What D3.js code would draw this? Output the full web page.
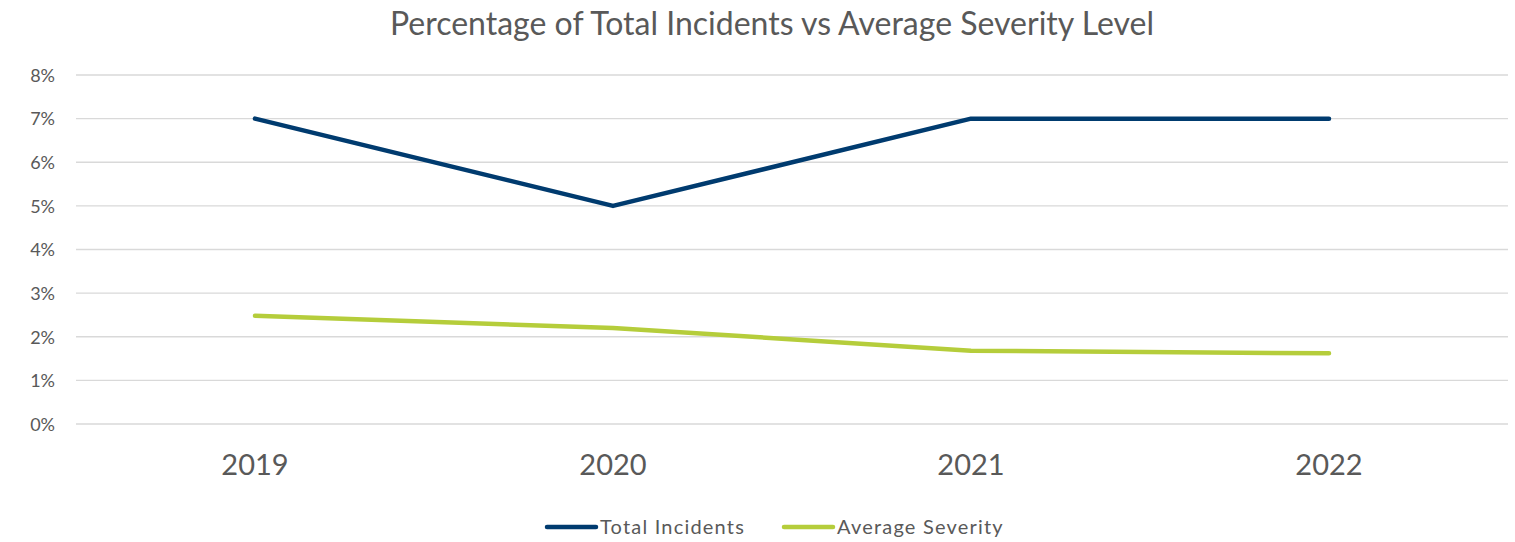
<!DOCTYPE html>
<html lang="en">
<head>
<meta charset="utf-8">
<title>Percentage of Total Incidents vs Average Severity Level</title>
<script src="https://d3js.org/d3.v7.min.js"></script>
<style>
  body { margin: 0; background: #fff; }
  svg { display: block; }
  svg text { font-family: Lato, "Open Sans", sans-serif; }
</style>
</head>
<body>
<script>
const years = ["2019", "2020", "2021", "2022"];
const totalIncidents = [7, 5, 7, 7];
const averageSeverity = [2.48, 2.2, 1.68, 1.62];
const yTicks = [0, 1, 2, 3, 4, 5, 6, 7, 8];
const seriesNames = ["Total Incidents", "Average Severity"];
const seriesColors = ["#003b6f", "#b5cd3b"];

const width = 1515, height = 542;
const plot = {left: 76, right: 1508, top: 75, bottom: 424};

const svg = d3.select("body").append("svg")
  .attr("width", width)
  .attr("height", height);

const x = d3.scaleBand()
  .domain(years)
  .range([plot.left, plot.right])
  .padding(0);

const y = d3.scaleLinear()
  .domain([0, 8])
  .range([plot.bottom, plot.top]);

// gridlines
svg.append("g")
  .selectAll("line")
  .data(yTicks)
  .join("line")
  .attr("x1", plot.left)
  .attr("x2", plot.right)
  .attr("y1", d => y(d))
  .attr("y2", d => y(d))
  .attr("stroke", "#d9d9d9")
  .attr("stroke-width", 1.3);

// y axis labels
const yAxis = d3.axisLeft(y).tickValues(yTicks).tickFormat(d => d + "%").tickSize(0).tickPadding(0);
svg.append("g")
  .attr("transform", "translate(" + (plot.left - 21) + ",0)")
  .call(yAxis)
  .call(g => g.select(".domain").remove())
  .selectAll("text")
  .attr("fill", "#595959")
  .style("font-size", "18px")
  .attr("dy", "0.35em");

// x axis labels
const xAxis = d3.axisBottom(x).tickSize(0).tickPadding(0);
svg.append("g")
  .attr("transform", "translate(0," + (plot.bottom + 30) + ")")
  .call(xAxis)
  .call(g => g.select(".domain").remove())
  .selectAll("text")
  .attr("fill", "#595959")
  .style("font-size", "29px")
  .attr("dy", "0.71em");

const cx = d => x(d) + x.bandwidth() / 2;

const line = d3.line()
  .x(d => cx(d.year))
  .y(d => y(d.value));

const series = [totalIncidents, averageSeverity].map((vals, i) => ({
  name: seriesNames[i],
  color: seriesColors[i],
  points: years.map((yr, j) => ({year: yr, value: vals[j]}))
}));

svg.append("g")
  .selectAll("path")
  .data(series)
  .join("path")
  .attr("d", d => line(d.points))
  .attr("fill", "none")
  .attr("stroke", d => d.color)
  .attr("stroke-width", 4.5)
  .attr("stroke-linecap", "round")
  .attr("stroke-linejoin", "round");

// title
svg.append("text")
  .attr("x", 772)
  .attr("y", 35)
  .attr("text-anchor", "middle")
  .attr("fill", "#595959")
  .style("font-size", "32px")
  .text("Percentage of Total Incidents vs Average Severity Level");

// legend
const legendX = [547, 784];
const legend = svg.append("g")
  .selectAll("g")
  .data(series)
  .join("g")
  .attr("transform", (d, i) => "translate(" + legendX[i] + ",527)");

legend.append("line")
  .attr("x1", 0).attr("x2", 49)
  .attr("stroke", d => d.color)
  .attr("stroke-width", 4.5)
  .attr("stroke-linecap", "round");

legend.append("text")
  .attr("x", 53)
  .attr("dy", "0.35em")
  .attr("fill", "#595959")
  .style("font-size", "20px")
  .style("letter-spacing", "1.2px")
  .text(d => d.name);
</script>
</body>
</html>
